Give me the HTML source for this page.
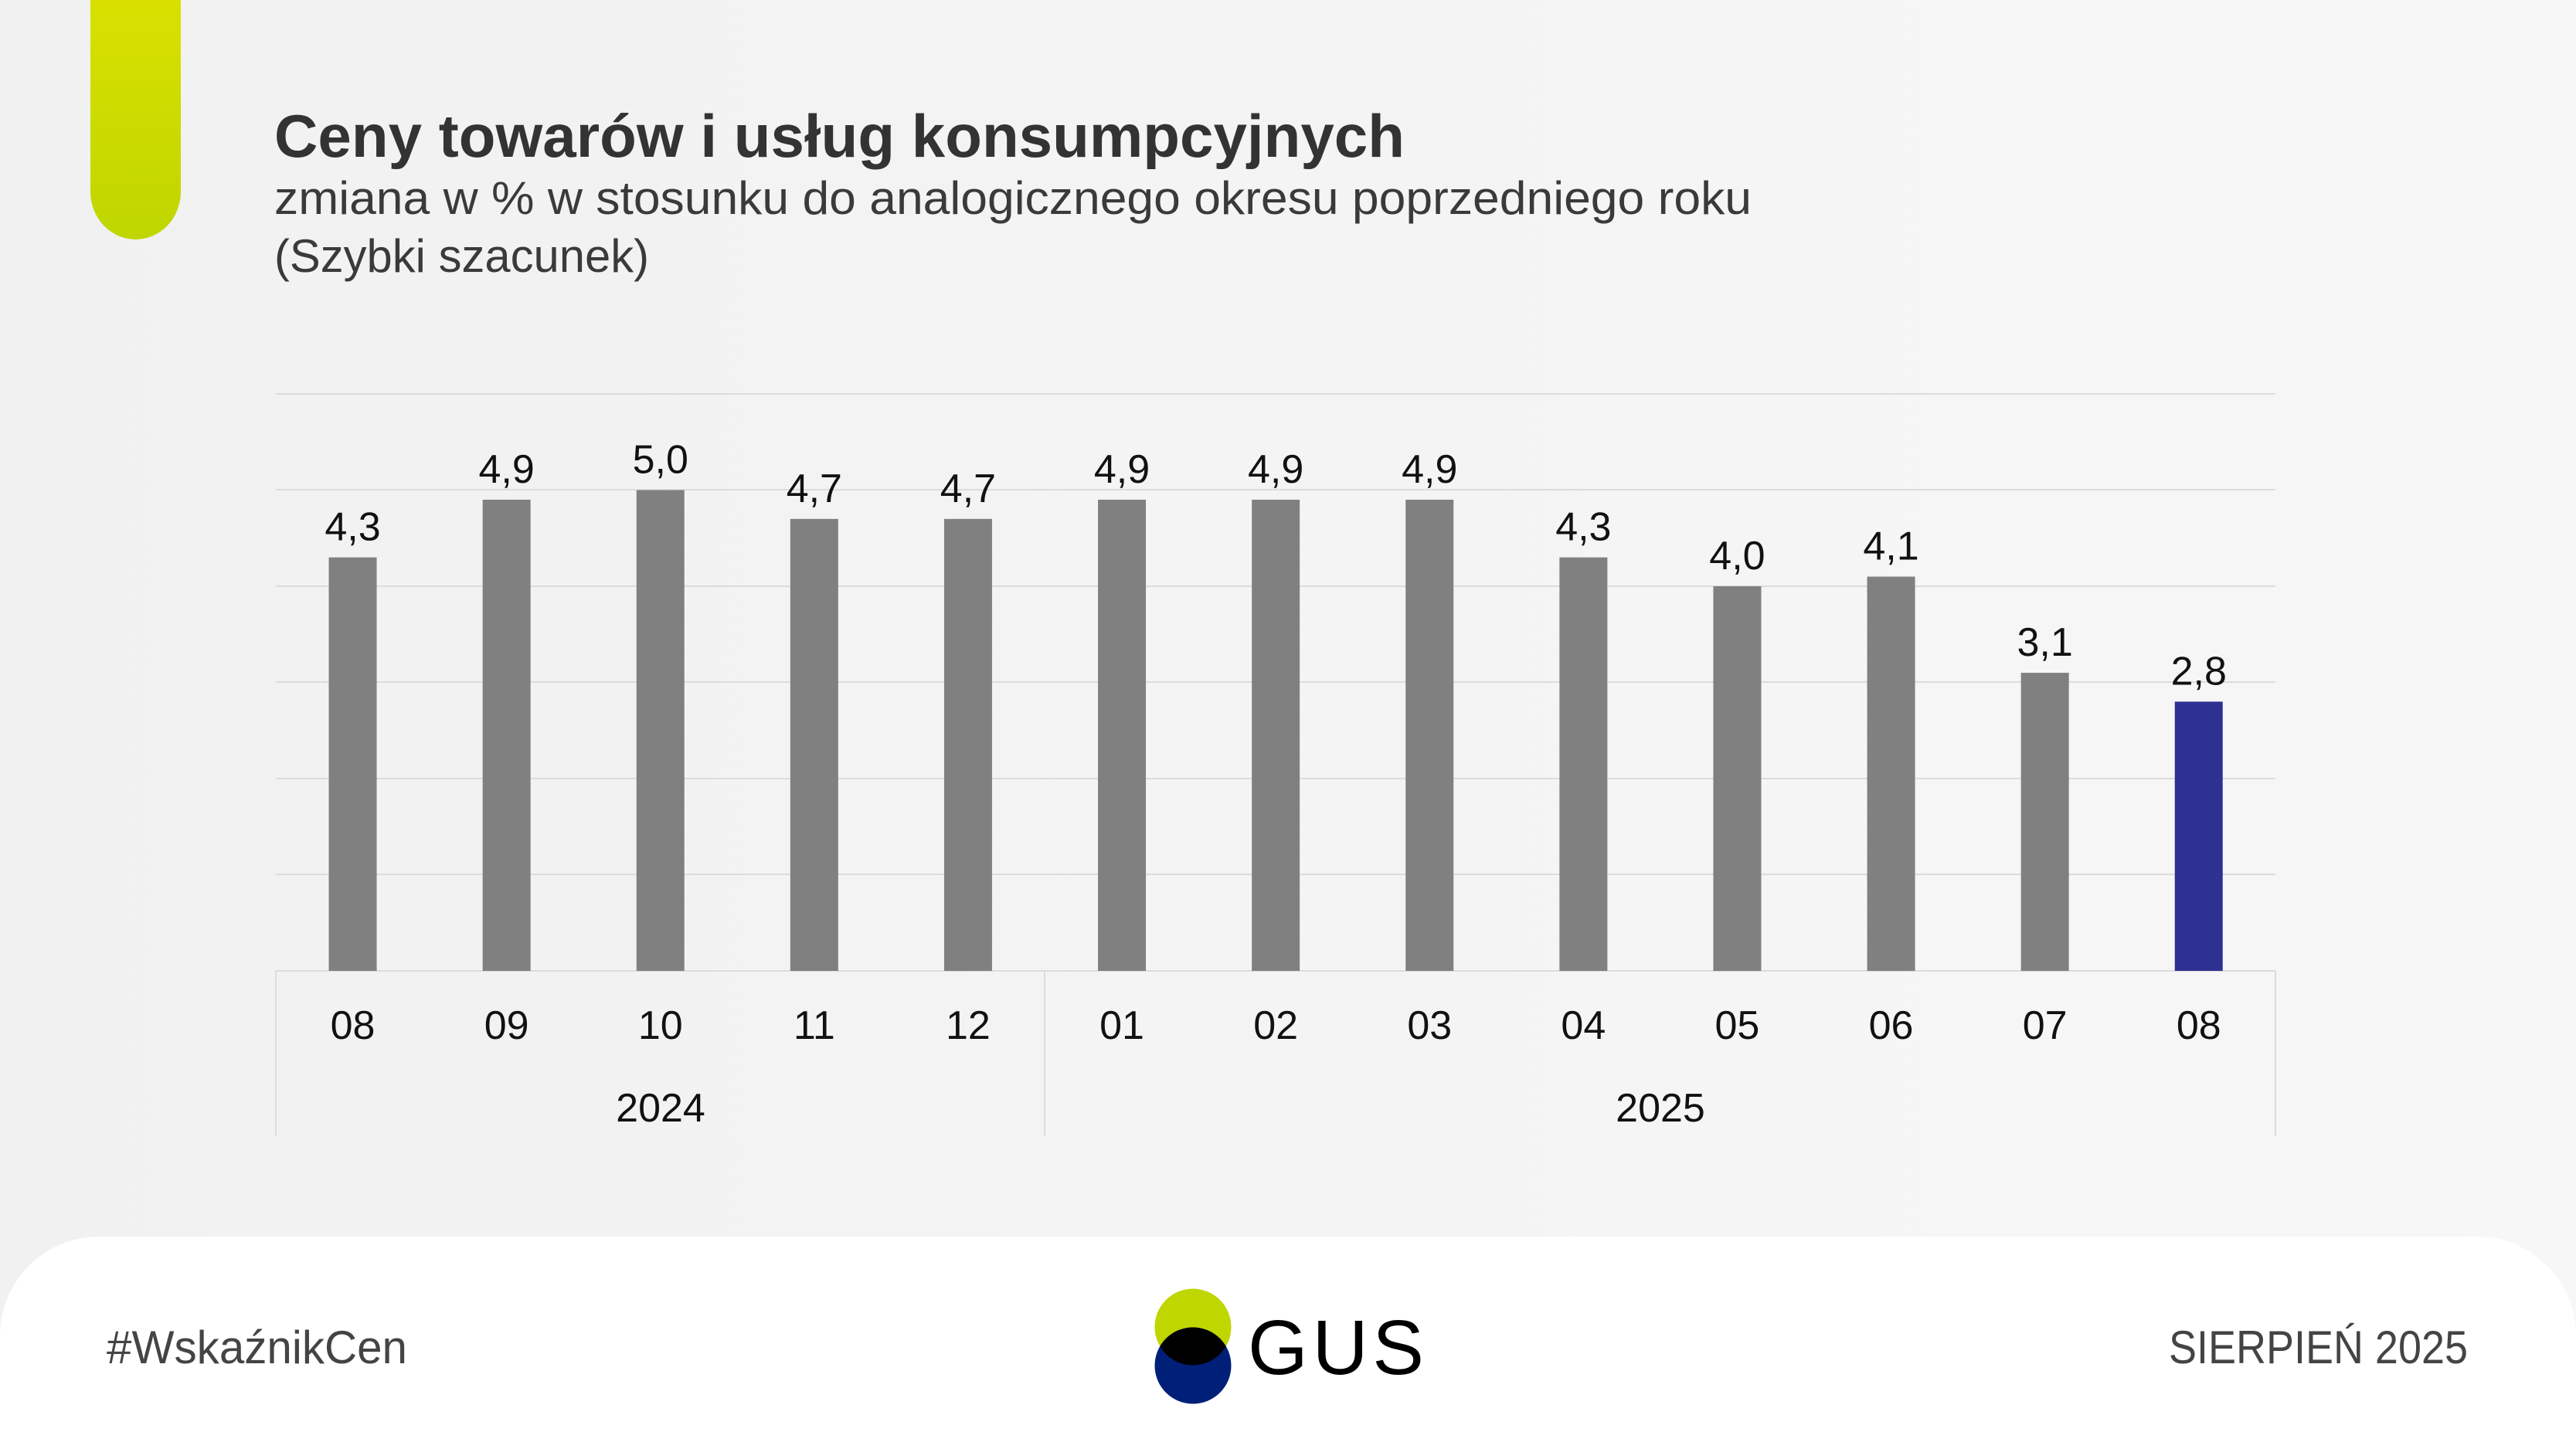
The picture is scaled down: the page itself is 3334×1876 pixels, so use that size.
<!DOCTYPE html>
<html><head><meta charset="utf-8"><style>
html,body{margin:0;padding:0;width:3334px;height:1876px;overflow:hidden;background:#f3f3f3}
svg{display:block}
text{font-family:"Liberation Sans Narrow","Liberation Sans",sans-serif}
</style></head><body>
<svg width="3334" height="1876" viewBox="0 0 3334 1876" xmlns="http://www.w3.org/2000/svg">
<defs>
<linearGradient id="bg" x1="0" y1="0" x2="1" y2="0"><stop offset="0" stop-color="#f1f1f1"/><stop offset="1" stop-color="#f7f7f7"/></linearGradient>
<linearGradient id="gr" x1="0" y1="0" x2="0" y2="1"><stop offset="0" stop-color="#d9e000"/><stop offset="1" stop-color="#bfd600"/></linearGradient>
<clipPath id="gc"><circle cx="1544" cy="1718" r="49.5"/></clipPath>
</defs>
<rect width="3334" height="1876" fill="url(#bg)"/>
<path d="M117 0 H234 V248 A58.5 62 0 0 1 117 248 Z" fill="url(#gr)"/>
<text x="355" y="203" font-size="78" font-weight="bold" fill="#333" textLength="1463" lengthAdjust="spacingAndGlyphs">Ceny towarów i usług konsumpcyjnych</text>
<text x="355" y="277" font-size="60" fill="#3a3a3a" textLength="1912" lengthAdjust="spacingAndGlyphs">zmiana w % w stosunku do analogicznego okresu poprzedniego roku</text>
<text x="355" y="352" font-size="60" fill="#3a3a3a" textLength="485" lengthAdjust="spacingAndGlyphs">(Szybki szacunek)</text>
<g stroke="#dcdcdc" stroke-width="2">
<line x1="357" x2="2945" y1="510" y2="510"/><line x1="357" x2="2945" y1="634" y2="634"/>
<line x1="357" x2="2945" y1="759" y2="759"/><line x1="357" x2="2945" y1="883" y2="883"/>
<line x1="357" x2="2945" y1="1008" y2="1008"/><line x1="357" x2="2945" y1="1132" y2="1132"/>
<line x1="357" x2="2945" y1="1257" y2="1257"/>
<line x1="357" x2="357" y1="1257" y2="1471"/><line x1="1352" x2="1352" y1="1257" y2="1471"/><line x1="2945" x2="2945" y1="1257" y2="1471"/>
</g>
<g id="bars"></g>
<g font-size="52" fill="#111" text-anchor="middle" id="labs"></g>
<g font-size="52" fill="#111" text-anchor="middle">
<text x="855" y="1452">2024</text><text x="2149" y="1452">2025</text>
</g>
<path d="M0 1729 A128 128 0 0 1 128 1601 H3206 A128 128 0 0 1 3334 1729 V1876 H0 Z" fill="#fff"/>
<text x="138" y="1765" font-size="60" fill="#444" textLength="389" lengthAdjust="spacingAndGlyphs">#WskaźnikCen</text>
<text x="3194" y="1765" font-size="60" fill="#444" text-anchor="end" textLength="387" lengthAdjust="spacingAndGlyphs">SIERPIEŃ 2025</text>
<circle cx="1544" cy="1718" r="49.5" fill="#bfd600"/>
<circle cx="1544" cy="1768" r="49.5" fill="#001f78"/>
<circle cx="1544" cy="1768" r="49.5" fill="#000" clip-path="url(#gc)"/>
<text x="1615" y="1779" font-size="100" fill="#000" font-family="Liberation Sans,sans-serif" textLength="228" lengthAdjust="spacing">GUS</text>
</svg>
<script>
var v=[4.3,4.9,5.0,4.7,4.7,4.9,4.9,4.9,4.3,4.0,4.1,3.1,2.8];
var m=["08","09","10","11","12","01","02","03","04","05","06","07","08"];
var ns="http://www.w3.org/2000/svg",b=document.getElementById("bars"),l=document.getElementById("labs");
for(var i=0;i<13;i++){var cx=357+(i+0.5)*199.1,ty=1257-v[i]*124.5;
var r=document.createElementNS(ns,"rect");r.setAttribute("x",cx-31);r.setAttribute("y",ty);r.setAttribute("width",62);r.setAttribute("height",1257-ty);r.setAttribute("fill",i==12?"#2e3192":"#808080");b.appendChild(r);
var t=document.createElementNS(ns,"text");t.setAttribute("x",cx);t.setAttribute("y",ty-22);t.textContent=v[i].toFixed(1).replace(".",",");l.appendChild(t);
var t2=document.createElementNS(ns,"text");t2.setAttribute("x",cx);t2.setAttribute("y",1345);t2.textContent=m[i];l.appendChild(t2);}
</script>
</body></html>
